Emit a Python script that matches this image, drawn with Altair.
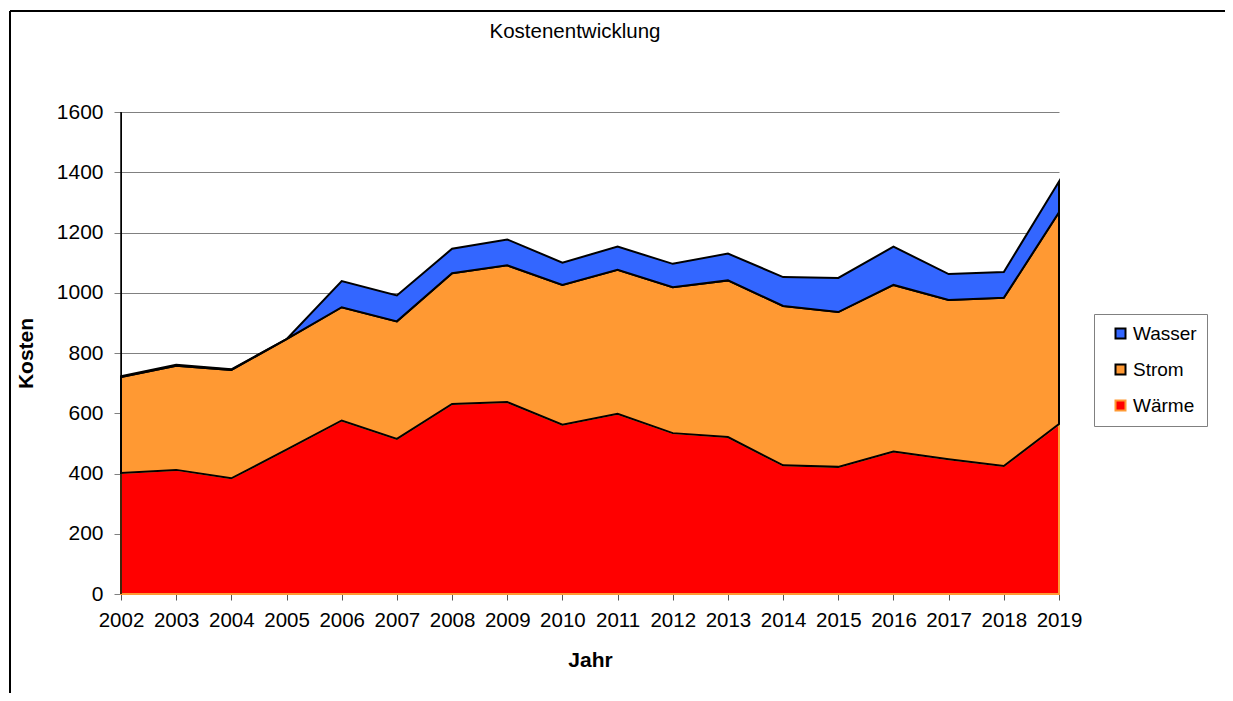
import altair as alt
import pandas as pd

years = list(range(2002, 2020))
waerme = [402, 412, 384, 479, 576, 515, 631, 637, 562, 598, 534, 521, 427, 422, 473, 447, 425, 564]
strom = [318, 346, 360, 367, 376, 390, 434, 454, 464, 478, 484, 520, 529, 514, 553, 529, 558, 703]
wasser = [3, 3, 2, 0, 87, 86, 81, 86, 74, 77, 78, 89, 96, 113, 127, 86, 86, 102]

series_names = ["Wärme", "Strom", "Wasser"]
legend_order = ["Wasser", "Strom", "Wärme"]
fill_colors = ["#3366FF", "#FF9933", "#FF0000"]
stroke_colors = ["#000000", "#000000", "#FF9933"]
y_ticks = [0, 200, 400, 600, 800, 1000, 1200, 1400, 1600]

rows = []
for rank, (name, vals) in enumerate(zip(series_names, [waerme, strom, wasser])):
    for yr, v in zip(years, vals):
        rows.append({"Jahr": yr, "Serie": name, "Wert": v, "rank": rank})
df = pd.DataFrame(rows)

FONT = "Liberation Sans"
W, H = 938, 482

fill_scale = alt.Scale(domain=legend_order, range=fill_colors)
stroke_scale = alt.Scale(domain=legend_order, range=stroke_colors)

legend = alt.Legend(
    title=None, orient="none", legendX=973, legendY=202,
    symbolType="square", symbolSize=100, symbolStrokeWidth=2,
    labelFontSize=19, labelFont=FONT, labelColor="black",
    padding=10, rowPadding=16, symbolOffset=7, labelOffset=3,
    strokeColor="#808080", fillColor="white",
)

x_enc = alt.X(
    "Jahr:Q",
    scale=alt.Scale(domain=[2002, 2019], nice=False, zero=False),
    axis=alt.Axis(
        values=years, format="d", grid=False, labelFlush=False,
        labelOverlap=False,
        labelFontSize=20.5, labelFont=FONT, labelColor="black", labelPadding=10,
        tickSize=6, tickColor="#555555", domainColor="black", domainWidth=1,
        title="Jahr", titleFontSize=21, titleFont=FONT, titleFontWeight="bold",
        titleColor="black", titleX=W / 2, titleY=66, titleBaseline="middle",
        titleAlign="center",
    ),
)
y_enc = alt.Y(
    "hi:Q",
    scale=alt.Scale(domain=[0, 1600], nice=False),
    axis=alt.Axis(
        values=y_ticks, format="d", grid=True, gridColor="#808080", gridWidth=1,
        labelFontSize=21, labelFont=FONT, labelColor="black", labelPadding=11,
        tickSize=7, tickColor="#808080", domainColor="black", domainWidth=1,
        title="Kosten", titleFontSize=21, titleFont=FONT, titleFontWeight="bold",
        titleColor="black", titleX=-95, titleY=H / 2, titleAngle=270,
        titleBaseline="middle", titleAlign="center",
    ),
)

base = alt.Chart(df).transform_stack(
    stack="Wert", groupby=["Jahr"], as_=["lo", "hi"],
    sort=[alt.SortField("rank", order="ascending")],
)

layers = []
for name in series_names:
    layers.append(
        base.transform_filter(alt.datum.Serie == name)
        .mark_area(opacity=1, strokeWidth=2, strokeJoin="miter")
        .encode(
            x=x_enc,
            y=y_enc,
            y2="lo:Q",
            fill=alt.Fill("Serie:N", scale=fill_scale, legend=legend),
            stroke=alt.Stroke("Serie:N", scale=stroke_scale, legend=legend),
        )
    )

one = pd.DataFrame({"k": [0]})
left_domain = alt.Chart(one).mark_rule(color="black", strokeWidth=1.5).encode(
    x=alt.value(0), y=alt.value(0), y2=alt.value(H)
)
frame_top = alt.Chart(one).mark_rule(color="black", strokeWidth=2).encode(
    x=alt.value(-111), x2=alt.value(1120), y=alt.value(-101)
)
frame_left = alt.Chart(one).mark_rule(color="black", strokeWidth=2).encode(
    x=alt.value(-111), y=alt.value(-101), y2=alt.value(600)
)
title = alt.Chart(one).mark_text(
    font=FONT, fontSize=20.5, color="black", align="center", baseline="middle"
).encode(x=alt.value(454), y=alt.value(-80), text=alt.value("Kostenentwicklung"))

chart = (
    alt.layer(*layers, left_domain, frame_top, frame_left, title)
    .properties(
        width=W, height=H,
        autosize=alt.AutoSizeParams(type="none"),
        padding={"left": 113, "top": 104, "right": 166, "bottom": 99},
    )
    .configure(font=FONT, background="white")
    .configure_view(stroke="#ffffff", strokeOpacity=0)
)

chart.save("out.html", embed_options={"renderer": "svg", "actions": False})
